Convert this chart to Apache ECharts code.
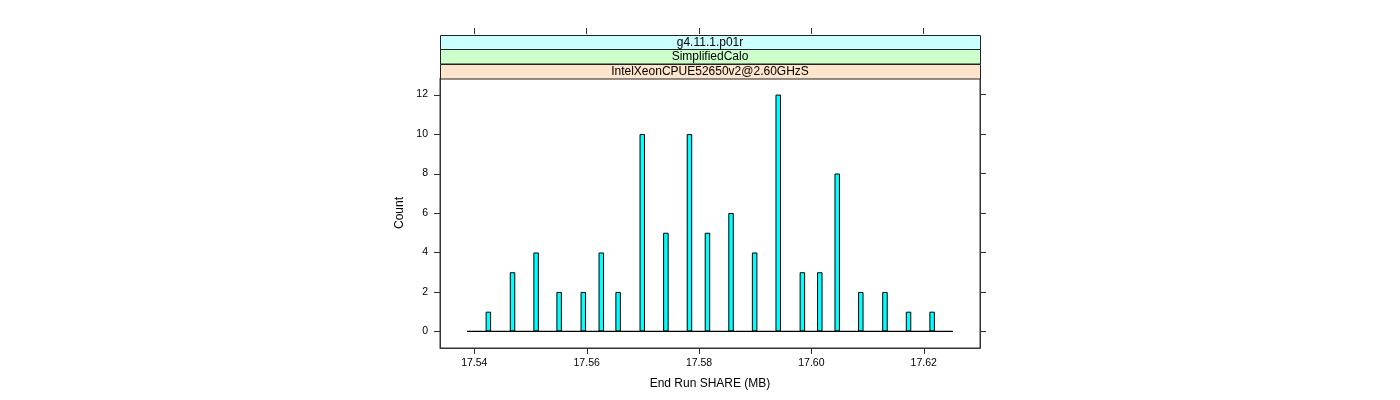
<!DOCTYPE html>
<html><head><meta charset="utf-8">
<script src="https://cdn.jsdelivr.net/npm/echarts@6/dist/echarts.min.js"></script>
<style>html,body{margin:0;padding:0;background:#fff}#c{width:1400px;height:400px}</style>
</head><body><div id="c"></div>
<script>
// Histogram bin centres (End Run SHARE, MB) and counts
const binCenters = [17.5425, 17.5468, 17.5510, 17.5551, 17.5594, 17.5626, 17.5656,
  17.5699, 17.5741, 17.5783, 17.5815, 17.5857, 17.5899, 17.5941, 17.5984, 17.6015,
  17.6046, 17.6088, 17.6131, 17.6173, 17.6215];
const counts = [1, 3, 4, 2, 2, 4, 2, 10, 5, 10, 5, 6, 4, 12, 3, 3, 8, 2, 2, 1, 1];
const histRange = [17.5387, 17.6252];
const xTicks = [17.54, 17.56, 17.58, 17.60, 17.62];
const yTicks = [0, 2, 4, 6, 8, 10, 12];
const stripLabels = ['g4.11.1.p01r', 'SimplifiedCalo', 'IntelXeonCPUE52650v2@2.60GHzS'];
const stripColors = ['#CCFFFF', '#CCFFCC', '#FFE5CC'];
const xTitle = 'End Run SHARE (MB)';
const yTitle = 'Count';

const FONT = '"Liberation Sans", Arial, Helvetica, sans-serif';
const chart = echarts.init(document.getElementById('c'), null, {renderer: 'canvas'});

const gridL = 440, gridT = 78, gridW = 540, gridH = 270;
const stripH = 14.5;
const TICK = 6;
const graphics = [];
stripLabels.forEach((lab, i) => {
  const y = gridT - stripH * (stripLabels.length - i);
  graphics.push({
    type: 'rect', z: 10,
    shape: {x: gridL + 0.5, y: Math.round(y) + 0.5, width: gridW, height: stripH},
    style: {fill: stripColors[i], stroke: '#222', lineWidth: 1}
  });
  graphics.push({
    type: 'text', z: 11,
    x: gridL + gridW / 2, y: y + stripH / 2 + 0.5,
    style: {text: lab, fill: '#000', font: '12px ' + FONT, align: 'center', verticalAlign: 'middle'}
  });
});

const tickStyle = {show: true, inside: false, length: TICK, lineStyle: {color: '#333', width: 1}};
const axLine = {show: true, onZero: false, lineStyle: {color: '#333', width: 1}};
const xRange = {min: 17.53389, max: 17.63002};
const yRange = {min: -0.84, max: 12.84};

chart.setOption({
  animation: false,
  backgroundColor: '#fff',
  textStyle: {fontFamily: FONT},
  grid: {left: gridL, top: gridT, width: gridW, height: gridH, show: true,
    borderColor: '#333', borderWidth: 1, backgroundColor: 'transparent'},
  xAxis: [{
    type: 'value', min: xRange.min, max: xRange.max, position: 'bottom',
    axisLine: axLine, splitLine: {show: false},
    axisTick: {show: false},
    axisLabel: {customValues: xTicks, formatter: v => v.toFixed(2), fontSize: 10.5, color: '#000', margin: 10, fontFamily: FONT},
    name: xTitle, nameLocation: 'middle', nameGap: 30,
    nameTextStyle: {fontSize: 12, color: '#000', fontFamily: FONT}
  }, {
    type: 'value', min: xRange.min, max: xRange.max, position: 'top', offset: 44,
    axisLine: {show: false, onZero: false}, splitLine: {show: false},
    axisTick: Object.assign({customValues: xTicks}, tickStyle),
    axisLabel: {show: false, customValues: xTicks}
  }],
  yAxis: [{
    type: 'value', min: yRange.min, max: yRange.max, position: 'left',
    axisLine: axLine, splitLine: {show: false},
    axisTick: {show: false},
    axisLabel: {customValues: yTicks, fontSize: 10.5, color: '#000', margin: 12, fontFamily: FONT},
    name: yTitle, nameLocation: 'middle', nameGap: 34, nameRotate: 90,
    nameTextStyle: {fontSize: 12, color: '#000', fontFamily: FONT}
  }, {
    type: 'value', min: yRange.min, max: yRange.max, position: 'right',
    axisLine: axLine, splitLine: {show: false},
    axisTick: Object.assign({customValues: yTicks}, tickStyle),
    axisLabel: {show: false, customValues: yTicks}
  }],
  series: [{
    type: 'bar', xAxisIndex: 0, yAxisIndex: 0,
    data: binCenters.map((x, i) => [x, counts[i]]),
    barWidth: 5.5,
    itemStyle: {color: '#00FFFF', borderColor: '#000', borderWidth: 1}
  }, {
    type: 'line', xAxisIndex: 0, yAxisIndex: 0, z: 3,
    data: [[histRange[0], 0], [histRange[1], 0]],
    symbol: 'none', lineStyle: {color: '#000', width: 1.2}
  }],
  graphic: graphics
});

// bottom and left outward ticks, positioned through the chart's own scales
const tickGraphics = [];
xTicks.forEach(v => {
  const p = chart.convertToPixel({xAxisIndex: 0, yAxisIndex: 0}, [v, yRange.min]);
  const x = Math.round(p[0]) + 0.5, y = Math.round(p[1]);
  tickGraphics.push({type: 'line', z: 20, shape: {x1: x, y1: y, x2: x, y2: y + TICK},
    style: {stroke: '#333', lineWidth: 1}});
});
yTicks.forEach(v => {
  const p = chart.convertToPixel({xAxisIndex: 0, yAxisIndex: 0}, [xRange.min, v]);
  const x = Math.round(p[0]), y = Math.round(p[1]) + 0.5;
  tickGraphics.push({type: 'line', z: 20, shape: {x1: x - TICK, y1: y, x2: x, y2: y},
    style: {stroke: '#333', lineWidth: 1}});
});
chart.setOption({graphic: graphics.concat(tickGraphics)});
</script></body></html>
